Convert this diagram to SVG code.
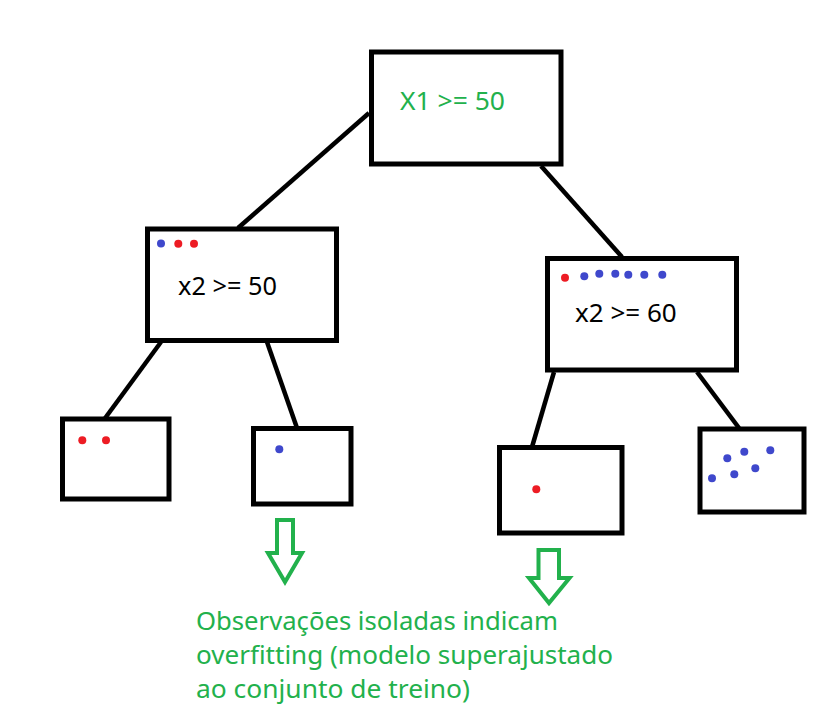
<svg xmlns="http://www.w3.org/2000/svg" width="823" height="716" viewBox="0 0 823 716">
<style>
.box{fill:#fff;stroke:#000;stroke-width:5}
.edge{stroke:#000;stroke-width:4.5;fill:none}
.lbl{font-family:"Noto Sans","Open Sans","Liberation Sans",sans-serif;font-size:25.5px}
.r{fill:#ed1c24}
.b{fill:#3f48cc}
.arrow{fill:none;stroke:#22b14c;stroke-width:4;stroke-linejoin:miter}
.note{font-family:"Noto Sans","Open Sans","Liberation Sans",sans-serif;font-size:25px;fill:#22b14c}
</style>
<rect width="823" height="716" fill="#fff"/>
<g id="connectors">
<line class="edge" x1="369" y1="113" x2="238" y2="228"/>
<line class="edge" x1="541" y1="166" x2="622" y2="257"/>
<line class="edge" x1="161" y1="342" x2="103" y2="421"/>
<line class="edge" x1="267" y1="342" x2="297" y2="428"/>
<line class="edge" x1="554" y1="372" x2="532" y2="447"/>
<line class="edge" x1="697" y1="372" x2="739" y2="428"/>
</g>
<g id="root">
<rect class="box" x="371.5" y="52" width="189.5" height="112"/>
<text class="lbl" x="400" y="110" fill="#22b14c" textLength="105" lengthAdjust="spacingAndGlyphs">X1 &gt;= 50</text>
</g>
<g id="left">
<rect class="box" x="147.5" y="229" width="189" height="111.5"/>
<circle class="b" cx="161" cy="243.5" r="4"/>
<circle class="r" cx="178.3" cy="243.7" r="4"/>
<circle class="r" cx="194" cy="243.7" r="4"/>
<text class="lbl" x="178" y="295" fill="#000" textLength="99" lengthAdjust="spacingAndGlyphs">x2 &gt;= 50</text>
</g>
<g id="right">
<rect class="box" x="547.5" y="258.5" width="189" height="111.5"/>
<circle class="r" cx="565" cy="277.7" r="4"/>
<circle class="b" cx="584.3" cy="276.3" r="4"/>
<circle class="b" cx="599.3" cy="273.7" r="4"/>
<circle class="b" cx="615.3" cy="273.7" r="4"/>
<circle class="b" cx="628.3" cy="274.7" r="4"/>
<circle class="b" cx="644.3" cy="274.7" r="4"/>
<circle class="b" cx="662.3" cy="274.7" r="4"/>
<text class="lbl" x="575" y="321.7" fill="#000" textLength="101.7" lengthAdjust="spacingAndGlyphs">x2 &gt;= 60</text>
</g>
<g id="leaf1">
<rect class="box" x="62.5" y="419" width="106.5" height="80"/>
<circle class="r" cx="82.3" cy="440.3" r="4"/>
<circle class="r" cx="106" cy="440.3" r="4"/>
</g>
<g id="leaf2">
<rect class="box" x="253.5" y="428.5" width="97.5" height="75.5"/>
<circle class="b" cx="279.3" cy="449.3" r="4"/>
</g>
<g id="leaf3">
<rect class="box" x="499.5" y="447.5" width="122.5" height="85.5"/>
<circle class="r" cx="536.3" cy="489.3" r="4"/>
</g>
<g id="leaf4">
<rect class="box" x="700" y="429" width="104" height="83"/>
<circle class="b" cx="727.3" cy="458.3" r="4"/>
<circle class="b" cx="744.3" cy="451.7" r="4"/>
<circle class="b" cx="770.3" cy="450.3" r="4"/>
<circle class="b" cx="755.3" cy="468.3" r="4"/>
<circle class="b" cx="734.3" cy="474.3" r="4"/>
<circle class="b" cx="712" cy="478.3" r="4"/>
</g>
<g id="arrow1">
<polygon class="arrow" points="277,520 293,520 293,553 302,553 285,582 268,553 277,553"/>
</g>
<g id="arrow2">
<polygon class="arrow" points="538.5,550 559,550 559,578 569.5,578 549,603 529,578 538.5,578"/>
</g>
<g id="note">
<text class="note" x="196" y="630" textLength="362" lengthAdjust="spacingAndGlyphs">Observações isoladas indicam</text>
<text class="note" x="196" y="664" textLength="417" lengthAdjust="spacingAndGlyphs">overfitting (modelo superajustado</text>
<text class="note" x="196" y="698" textLength="274" lengthAdjust="spacingAndGlyphs">ao conjunto de treino)</text>
</g>
</svg>
